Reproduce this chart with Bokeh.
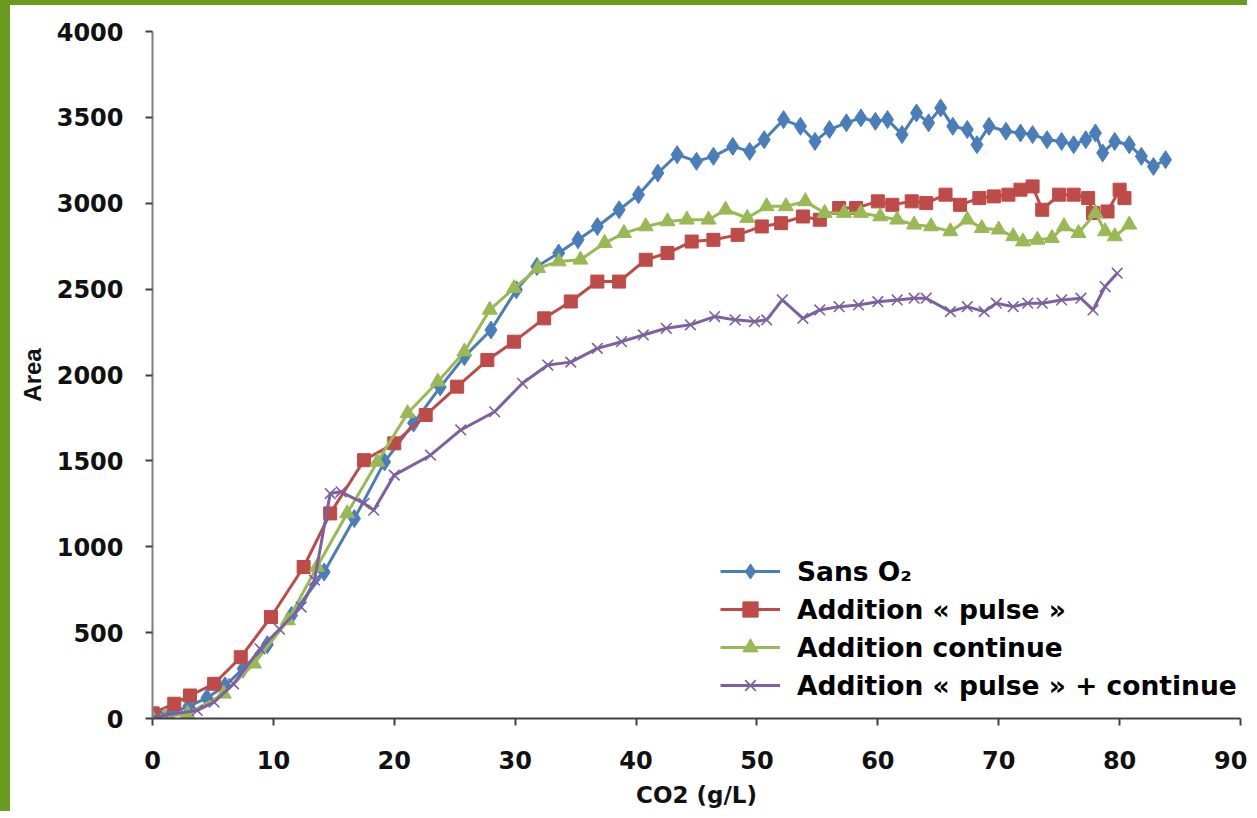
from bokeh.plotting import figure
from bokeh.models import Range1d, Legend, LegendItem, FixedTicker
from bokeh.embed import file_html
from bokeh.resources import INLINE

# ---- data ----
series_names = ["Sans O\u2082", "Addition \u00ab pulse \u00bb", "Addition continue",
                "Addition \u00ab pulse \u00bb + continue"]

sans_x = [0, 0.5, 1.5, 3, 4.5, 6, 7.5, 9.5, 11.5, 14.2, 16.7, 19.2, 21.6, 23.8, 25.8, 28.0,
          30.1, 31.8, 33.6, 35.2, 36.8, 38.6, 40.2, 41.8, 43.4, 45.0, 46.4, 48.0, 49.4, 50.6,
          52.2, 53.6, 54.8, 56.0, 57.4, 58.6, 59.8, 60.8, 62.0, 63.2, 64.2, 65.2, 66.2, 67.4,
          68.2, 69.2, 70.6, 71.8, 72.8, 74.0, 75.2, 76.2, 77.2, 78.0, 78.6, 79.6, 80.8, 81.8,
          82.8, 83.8]
sans_y = [10, 15, 30, 70, 120, 190, 290, 430, 600, 853, 1164, 1494, 1720, 1930, 2107, 2262,
          2496, 2632, 2710, 2787, 2865, 2962, 3050, 3176, 3283, 3244, 3273, 3331, 3302, 3370,
          3487, 3448, 3360, 3429, 3468, 3497, 3477, 3487, 3400, 3526, 3468, 3555, 3448, 3429,
          3341, 3448, 3419, 3409, 3400, 3370, 3360, 3341, 3370, 3409, 3293, 3360, 3341, 3273,
          3214, 3254]

pulse_x = [0, 1.8, 3.1, 5.1, 7.3, 9.8, 12.5, 14.7, 17.5, 20.0, 22.6, 25.2, 27.7, 29.9, 32.4,
           34.6, 36.8, 38.6, 40.8, 42.6, 44.6, 46.4, 48.4, 50.4, 52.0, 53.8, 55.2, 56.8, 58.2,
           60.0, 61.2, 62.8, 64.0, 65.6, 66.8, 68.4, 69.6, 70.8, 71.8, 72.8, 73.6, 75.0, 76.2,
           77.4, 77.8, 79.0, 80.0, 80.4]
pulse_y = [30, 86, 134, 202, 357, 591, 882, 1194, 1504, 1602, 1767, 1932, 2087, 2194, 2330,
           2428, 2544, 2544, 2671, 2710, 2777, 2787, 2816, 2865, 2884, 2923, 2904, 2972, 2972,
           3011, 2991, 3011, 3001, 3050, 2991, 3030, 3040, 3050, 3079, 3098, 2962, 3050, 3050,
           3030, 2943, 2952, 3079, 3030]

cont_x = [0, 1, 2.9, 5.9, 8.4, 11.2, 13.6, 16.1, 18.6, 21.1, 23.6, 25.8, 27.9, 29.9, 31.9,
          33.6, 35.4, 37.4, 39.0, 40.8, 42.6, 44.2, 46.0, 47.4, 49.2, 50.8, 52.4, 54.0, 55.6,
          57.2, 58.6, 60.2, 61.6, 63.0, 64.4, 66.0, 67.4, 68.6, 70.0, 71.2, 72.0, 73.2, 74.4,
          75.4, 76.6, 78.0, 78.8, 79.6, 80.8]
cont_y = [0, 10, 27, 144, 319, 571, 882, 1194, 1494, 1777, 1961, 2136, 2379, 2505, 2622,
          2661, 2671, 2768, 2826, 2865, 2894, 2904, 2904, 2962, 2914, 2982, 2982, 3011, 2943,
          2943, 2943, 2923, 2904, 2875, 2865, 2836, 2904, 2855, 2846, 2807, 2777, 2787, 2797,
          2865, 2826, 2943, 2836, 2807, 2875]

both_x = [0, 1, 3.7, 5.1, 6.7, 8.9, 10.5, 12.3, 13.4, 14.7, 15.6, 17.5, 18.3, 20.0, 23.0,
          25.5, 28.3, 30.6, 32.7, 34.6, 36.8, 38.8, 40.6, 42.5, 44.5, 46.5, 48.2, 49.8, 50.8,
          52.1, 53.8, 55.2, 56.8, 58.4, 60.0, 61.6, 63.0, 64.0, 66.0, 67.4, 68.8, 69.8, 71.2,
          72.4, 73.6, 75.2, 76.8, 77.8, 78.8, 79.8]
both_y = [0, 20, 47, 95, 202, 406, 520, 649, 805, 1310, 1320, 1252, 1213, 1417, 1533,
          1680, 1786, 1952, 2058, 2075, 2155, 2194, 2233, 2272, 2292, 2340, 2321, 2311, 2321,
          2437, 2330, 2379, 2398, 2408, 2427, 2437, 2447, 2447, 2369, 2398, 2369, 2418, 2398,
          2418, 2418, 2437, 2447, 2379, 2515, 2593]

x_ticks = [0, 10, 20, 30, 40, 50, 60, 70, 80, 90]
y_ticks = [0, 500, 1000, 1500, 2000, 2500, 3000, 3500, 4000]

# ---- figure ----
p = figure(width=1247, height=811, x_range=Range1d(0, 90), y_range=Range1d(0, 4000),
           output_backend="svg", toolbar_location=None,
           min_border_left=142, min_border_right=17, min_border_top=26, min_border_bottom=98)
p.styles = {"border-left": "10px solid #6b9b1e", "border-top": "5px solid #6b9b1e"}
p.outline_line_color = None
p.xgrid.visible = False
p.ygrid.visible = False
p.background_fill_color = "white"
p.border_fill_color = "white"

p.xaxis.ticker = FixedTicker(ticks=x_ticks)
p.yaxis.ticker = FixedTicker(ticks=y_ticks)
p.xaxis.minor_tick_line_color = None
p.yaxis.minor_tick_line_color = None

for ax in (p.xaxis, p.yaxis):
    ax.major_tick_in = 0
    ax.major_tick_out = 7
    ax.major_label_text_font = "DejaVu Sans"
    ax.major_label_text_font_style = "bold"
    ax.major_label_text_font_size = "24px"
    ax.major_label_text_color = "#111111"
    ax.axis_label_text_font_style = "bold"
    ax.axis_label_text_color = "#111111"

p.xaxis.axis_line_color = "#404040"
p.xaxis.major_tick_line_color = "#404040"
p.xaxis.axis_line_width = 2
p.xaxis.major_tick_line_width = 2
p.yaxis.axis_line_color = "#808080"
p.yaxis.major_tick_line_color = "#404040"
p.yaxis.axis_line_width = 2
p.yaxis.major_tick_line_width = 2

p.xaxis.major_label_standoff = 25
p.yaxis.major_label_standoff = 22

p.xaxis.axis_label = "CO2 (g/L)"
p.xaxis.axis_label_text_font = "DejaVu Sans"
p.xaxis.axis_label_text_font_size = "23px"
p.xaxis.axis_label_standoff = 10
p.yaxis.axis_label = "Area"
p.yaxis.axis_label_text_font = "Liberation Sans"
p.yaxis.axis_label_text_font_size = "24px"
p.yaxis.axis_label_standoff = 8

colors = ["#4a7ebb", "#be4b48", "#98b954", "#7d60a0"]
xs = [sans_x, pulse_x, cont_x, both_x]
ys = [sans_y, pulse_y, cont_y, both_y]
markers = ["diamond", "square", "triangle", "x"]
sizes = [18, 13, 15, 15]

items = []
for name, x, y, c, m, s in zip(series_names, xs, ys, colors, markers, sizes):
    lr = p.line(x, y, line_color=c, line_width=3)
    if m == "x":
        sr = p.scatter(x, y, marker=m, size=s, line_color=c, line_width=1.6)
    else:
        sr = p.scatter(x, y, marker=m, size=s, fill_color=c, line_color=c, line_width=1)
    items.append(LegendItem(label=name, renderers=[lr, sr]))

legend = Legend(items=items, location=(568, 14), orientation="vertical",
                label_text_font="DejaVu Sans", label_text_font_style="bold",
                label_text_font_size="26.5px", label_text_color="#000000",
                glyph_width=60, glyph_height=38, label_height=38, spacing=0,
                padding=0, margin=0, label_standoff=17,
                border_line_color=None, background_fill_alpha=0)
p.add_layout(legend, "center")

open("out.html", "w").write(file_html(p, INLINE))
